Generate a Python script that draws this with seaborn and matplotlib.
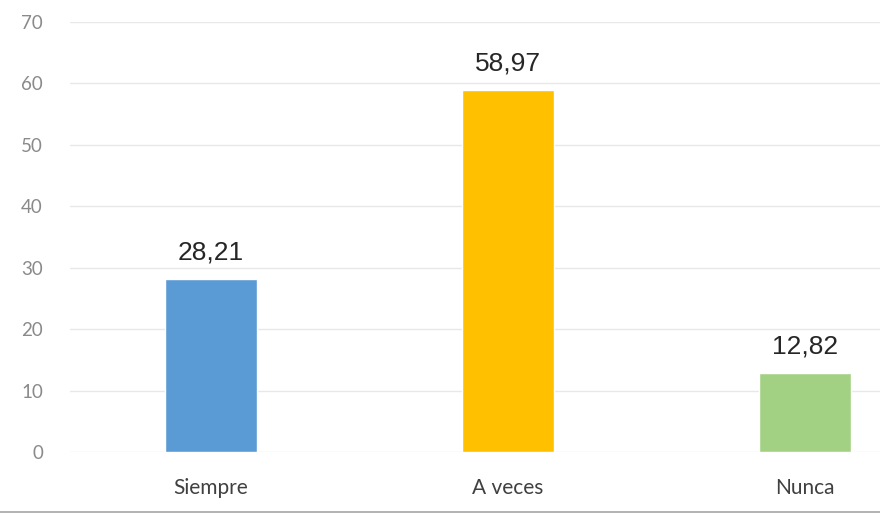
import pandas as pd
import seaborn as sns
import matplotlib.pyplot as plt
from matplotlib.lines import Line2D

# Data
categories = ["Siempre", "A veces", "Nunca"]
values = [28.21, 58.97, 12.82]
labels = ["28,21", "58,97", "12,82"]
colors = ["#5B9BD5", "#FFC000", "#A3D184"]
yticks = [0, 10, 20, 30, 40, 50, 60, 70]

df = pd.DataFrame({"cat": categories, "val": values})

sns.set_style("white")
plt.rcParams['font.family'] = ['Lato', 'DejaVu Sans']

fig = plt.figure(figsize=(8.8, 5.18), dpi=100)
ax = fig.add_axes([70 / 880, 1 - 452 / 518, 810 / 880, 430 / 518])

sns.barplot(data=df, x="cat", y="val", hue="cat", palette=colors,
            saturation=1, width=0.31, legend=False, ax=ax, zorder=3)

ax.set_ylim(0, 70)
ax.set_xlim(-0.475, 2.253)
ax.set_yticks(yticks)
ax.set_yticklabels([str(t) for t in yticks], color="#8a8a8a", fontsize=13.5)
ax.grid(axis="y", color="#e8e8e8", linewidth=1, zorder=0)
ax.set_xlabel("")
ax.set_ylabel("")
ax.tick_params(axis="x", length=0, pad=19, labelsize=15, labelcolor="#404040")
ax.tick_params(axis="y", length=0, pad=19.5)
for s in ax.spines.values():
    s.set_visible(False)

# value labels
for i, v in enumerate(values):
    ax.annotate(labels[i], (i, v), xytext=(0, 19), textcoords="offset points",
                ha="center", va="center", fontsize=19, color="#262626",
                family=["Liberation Sans", "DejaVu Sans"])

# bottom rule across the figure
fig.add_artist(Line2D([0, 1], [1 - 512 / 518] * 2, color="#a6a6a6",
                      linewidth=1.2, transform=fig.transFigure))

fig.savefig("out.png", dpi=100)
